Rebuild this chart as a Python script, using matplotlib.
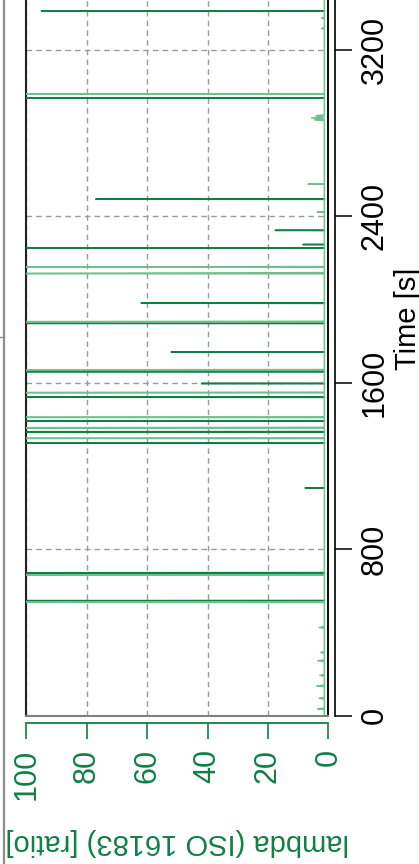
import numpy as np
import matplotlib.pyplot as plt
from matplotlib.lines import Line2D

plt.rcParams['font.family'] = ['Liberation Sans', 'DejaVu Sans']

GREEN = '#0f8044'
LIGHT = '#6fbf90'

# light trace: baseline with its own spikes (time [s], lambda)
t_light = [0, 30, 33, 36, 80, 84, 88, 140, 143, 147, 190, 194, 198, 260, 264, 268,
           300, 304, 308, 420, 424, 428, 544, 545, 547, 675, 676, 678,
           1332, 1333, 1335, 1383, 1384, 1386, 1433, 1434, 1436, 1552, 1553, 1555,
           1661, 1662, 1664, 1893, 1894, 1896, 2124, 2125, 2130, 2156, 2157, 2159,
           2419, 2420, 2421, 2554, 2555, 2557, 2860, 2864, 2868, 2874, 2878, 2884, 2888,
           2987, 2988, 2990, 3300, 3304, 3308, 3350, 3354, 3358, 3820]
lam_light = [1.3, 1.3, 3.5, 1.3, 1.3, 3.0, 1.3, 1.3, 3.8, 1.3, 1.3, 2.8, 1.3, 1.3, 3.5, 1.3,
             1.3, 2.5, 1.3, 1.3, 3.0, 1.3, 1.3, 130, 1.3, 1.3, 130, 1.3,
             1.3, 130, 1.3, 1.3, 130, 1.3, 1.3, 130, 1.3, 1.3, 130, 1.3,
             1.3, 130, 1.3, 1.3, 130, 1.3, 1.3, 130, 1.3, 1.3, 130, 1.3,
             1.3, 3.7, 1.3, 1.3, 6.7, 1.3, 1.3, 4.5, 1.3, 5.5, 1.3, 4.0, 1.3,
             1.3, 130, 1.3, 1.3, 2.2, 1.3, 1.3, 2.2, 1.3, 1.3]

# dark trace: spike times and peak values
t_dark = [553, 687, 1095, 1311, 1365, 1417, 1531, 1597, 1654, 1748, 1886, 1983,
          2248, 2265, 2333, 2483, 2969, 3388]
lam_dark = [130, 130, 7.7, 130, 130, 130, 130, 42, 130, 52, 130, 62,
            130, 8.4, 17.6, 77, 130, 95]
base = 1.3

xt = [100, 80, 60, 40, 20, 0]
yt = [0, 800, 1600, 2400, 3200]

fig = plt.figure(figsize=(4.19, 8.64), dpi=100)
ax = fig.add_axes([26.3/419, 148.3/864, 302/419, 3820*0.20803/864])

# dark spikes
td, ld = [], []
for t, v in zip(t_dark, lam_dark):
    td += [t-1, t, t+1, np.nan]
    ld += [base, v, base, np.nan]
ax.plot(ld, td, color=GREEN, lw=1.1, zorder=3)
ax.plot(lam_light, t_light, color=LIGHT, lw=1.1, zorder=4)

ax.set_xlim(100, 0)
ax.set_ylim(0, 3820)
ax.set_xticks(xt)
ax.set_yticks(yt)
ax.grid(True, color='#9a9a9a', ls=(0, (4, 3)), lw=1.0, zorder=1)

ax.spines['top'].set_visible(False)
ax.spines['left'].set_color('#222222')
ax.spines['left'].set_linewidth(1.5)
ax.spines['right'].set_position(('outward', 4.8))
ax.spines['right'].set_linewidth(1.2)
ax.spines['bottom'].set_position(('outward', 5.5))
ax.spines['bottom'].set_color(GREEN)
ax.spines['bottom'].set_linewidth(1.3)
ax.axvline(0, color='#111111', lw=1.5, clip_on=False, zorder=5)
ax.axhline(0, color='#808080', lw=1.5, clip_on=False, zorder=5)

ax.yaxis.tick_right()
ax.yaxis.set_label_position('right')
ax.tick_params(axis='y', length=12, width=1.1, pad=6, labelsize=22, labelrotation=90)
for lb in ax.get_yticklabels():
    lb.set_va('center')
ax.tick_params(axis='x', colors=GREEN, length=11.5, width=1.2, pad=7, labelsize=22,
               labelrotation=90)
ax.set_ylabel('Time [s]', fontsize=21, rotation=90, labelpad=3)
ax.set_xlabel('lambda (ISO 16183) [ratio]', fontsize=21, rotation=180, color=GREEN,
              labelpad=20)

# neighbouring panel edge on the left
fig.add_artist(Line2D([4/419, 4/419], [0, 1], transform=fig.transFigure,
                      color='#8c8c8c', lw=1.6))
fig.add_artist(Line2D([0, 4/419], [1-337/864, 1-337/864], transform=fig.transFigure,
                      color='#8c8c8c', lw=1.0))

fig.savefig('out.png', dpi=100)
